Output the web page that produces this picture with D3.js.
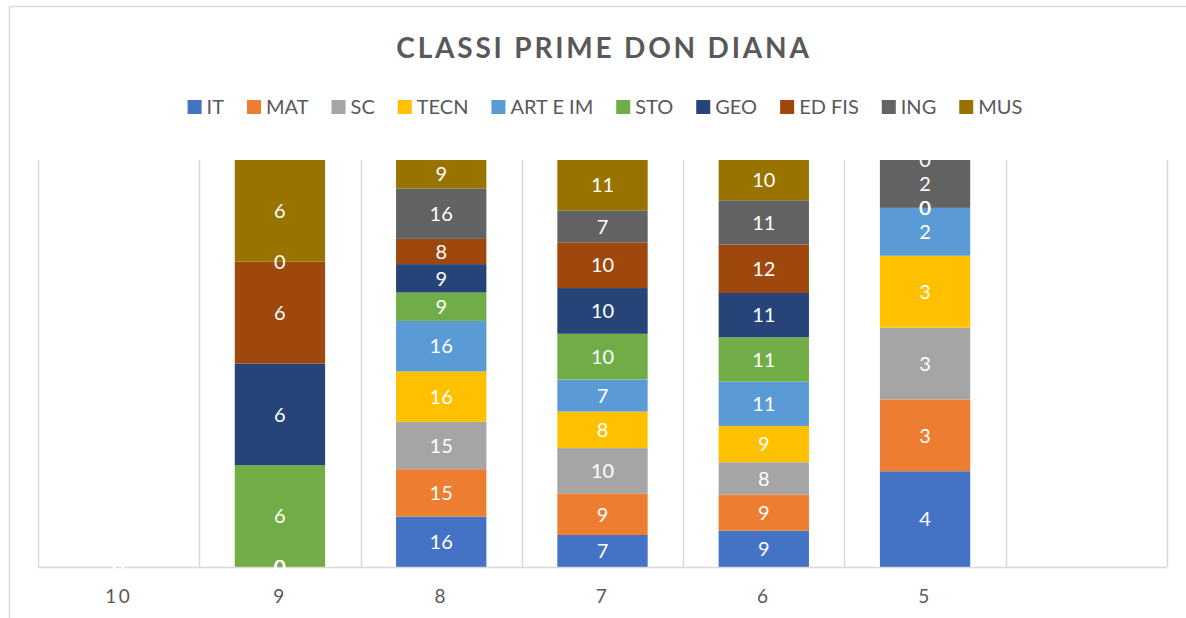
<!DOCTYPE html>
<html><head><meta charset="utf-8">
<script src="https://cdn.jsdelivr.net/npm/d3@7"></script>
<style>
html,body{margin:0;padding:0;background:#fff;}
svg{display:block;font-family:Lato,"Open Sans",sans-serif;}
</style></head>
<body>
<svg id="chart" width="1186" height="618"></svg>
<script>
const title = "CLASSI PRIME DON DIANA";
const categories = ["10", "9", "8", "7", "6", "5", ""];
const seriesNames = ["IT", "MAT", "SC", "TECN", "ART E IM", "STO", "GEO", "ED FIS", "ING", "MUS"];
const seriesColors = ["#4472C4", "#ED7D31", "#A5A5A5", "#FFC000", "#5B9BD5", "#70AD47", "#264478", "#9E480E", "#636363", "#997300"];
// values per category (10, 9, 8, 7, 6, 5, blank)
const IT     = [0, 0, 16, 7, 9, 4, null];
const MAT    = [0, 0, 15, 9, 9, 3, null];
const SC     = [0, 0, 15, 10, 8, 3, null];
const TECN   = [0, 0, 16, 8, 9, 3, null];
const ARTEIM = [0, 0, 16, 7, 11, 2, null];
const STO    = [0, 6, 9, 10, 11, 0, null];
const GEO    = [0, 6, 9, 10, 11, 0, null];
const EDFIS  = [0, 6, 8, 10, 12, 0, null];
const ING    = [0, 0, 16, 7, 11, 2, null];
const MUS    = [0, 6, 9, 11, 10, 0, null];
const seriesValues = [IT, MAT, SC, TECN, ARTEIM, STO, GEO, EDFIS, ING, MUS];

const svg = d3.select("#chart");
const W = 1186, H = 618;
const plot = {left: 38, right: 1167, top: 160, bottom: 567};

// chart border
svg.append("rect").attr("x", 9.5).attr("y", 6.5).attr("width", W + 10).attr("height", H + 10)
  .attr("fill", "#fff").attr("stroke", "#D9D9D9").attr("stroke-width", 1.5);

// title
svg.append("text").attr("x", 604).attr("y", 58).attr("text-anchor", "middle")
  .attr("fill", "#595959").attr("font-size", 28).attr("font-weight", "bold")
  .attr("letter-spacing", 2.8).text(title);

// data table
const table = categories.map((c, j) => {
  const row = {cat: c};
  seriesNames.forEach((s, i) => row[s] = seriesValues[i][j] == null ? 0 : seriesValues[i][j]);
  row.blank = seriesValues[0][j] == null;
  return row;
});

const stack = d3.stack().keys(seriesNames).offset(d3.stackOffsetExpand);
const stacked = stack(table);

const x = d3.scaleBand().domain(categories).range([plot.left, plot.right])
  .paddingInner(0.44).paddingOuter(0.22);
const y = d3.scaleLinear().domain([0, 1]).range([plot.bottom, plot.top]);
const color = d3.scaleOrdinal().domain(seriesNames).range(seriesColors);

// vertical gridlines at category boundaries
const step = x.step();
const gridX = d3.range(categories.length + 1).map(i => plot.left + i * step);
svg.append("g").selectAll("line").data(gridX).join("line")
  .attr("x1", d => Math.round(d) + 0.5).attr("x2", d => Math.round(d) + 0.5)
  .attr("y1", plot.top).attr("y2", plot.bottom)
  .attr("stroke", "#D9D9D9").attr("stroke-width", 1.5);

// bars
const gBars = svg.append("g");
stacked.forEach(layer => {
  gBars.append("g").attr("fill", color(layer.key))
    .selectAll("rect").data(layer.filter(d => !d.data.blank)).join("rect")
    .attr("x", d => x(d.data.cat))
    .attr("width", x.bandwidth())
    .attr("y", d => y(d[1]))
    .attr("height", d => Math.max(0, y(d[0]) - y(d[1])));
});

// x axis line
svg.append("line").attr("x1", plot.left).attr("x2", plot.right)
  .attr("y1", plot.bottom + 0.5).attr("y2", plot.bottom + 0.5)
  .attr("stroke", "#D9D9D9").attr("stroke-width", 1.5);

// x axis labels
const xAxis = d3.axisBottom(x).tickSize(0).tickPadding(0);
const gx = svg.append("g").attr("transform", `translate(0,${plot.bottom})`).call(xAxis);
gx.select(".domain").remove();
gx.selectAll("text").attr("y", 36).attr("dy", null).attr("fill", "#595959")
  .attr("font-size", 19).attr("letter-spacing", 2.5).attr("font-family", "Lato, sans-serif");

// data labels
const gLab = svg.append("g");
stacked.forEach(layer => {
  gLab.append("g").selectAll("text").data(layer.filter(d => !d.data.blank)).join("text")
    .attr("x", d => x(d.data.cat) + x.bandwidth() / 2)
    .attr("y", d => (y(d[0]) + y(d[1])) / 2)
    .attr("dy", "0.36em")
    .attr("text-anchor", "middle")
    .attr("fill", "#fff").attr("font-size", 20)
    .text(d => d.data[layer.key]);
});

// legend
const legend = svg.append("g");
let lx = 0;
const items = [];
seriesNames.forEach((s, i) => {
  const g = legend.append("g");
  g.append("rect").attr("x", 0).attr("y", -7).attr("width", 14).attr("height", 14).attr("fill", seriesColors[i]);
  const t = g.append("text").attr("x", 19).attr("y", 0).attr("dy", "0.36em")
    .attr("fill", "#595959").attr("font-size", 20).text(s);
  const w = 19 + t.node().getComputedTextLength();
  items.push({g, w});
});
const gap = 23;
const total = d3.sum(items, d => d.w) + gap * (items.length - 1);
lx = 605 - total / 2;
items.forEach(it => { it.g.attr("transform", `translate(${lx},107)`); lx += it.w + gap; });
</script>
</body></html>
